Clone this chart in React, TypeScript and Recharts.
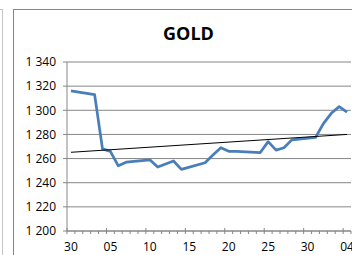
import { LineChart, Line, XAxis, YAxis, CartesianGrid } from "recharts";

// trading days, Sep 30 -> Nov 4
const dates = [
  "2016-09-30", "2016-10-03", "2016-10-04", "2016-10-05", "2016-10-06", "2016-10-07",
  "2016-10-10", "2016-10-11", "2016-10-12", "2016-10-13", "2016-10-14",
  "2016-10-17", "2016-10-18", "2016-10-19", "2016-10-20", "2016-10-21",
  "2016-10-24", "2016-10-25", "2016-10-26", "2016-10-27", "2016-10-28",
  "2016-10-31", "2016-11-01", "2016-11-02", "2016-11-03", "2016-11-04",
];
const prices = [
  1316, 1313, 1268, 1266, 1254, 1257,
  1259, 1253, 1255.5, 1258, 1251,
  1256.5, 1263, 1269, 1266, 1266,
  1265, 1274, 1267, 1269, 1275.5,
  1277.5, 1289, 1297.5, 1303, 1298.5,
];
const trendDates = ["2016-09-30", "2016-11-04"];
const trendValues = [1265.2, 1280];

const xLabels = ["30", "05", "10", "15", "20", "25", "30", "04"];
const yTicks = [1200, 1220, 1240, 1260, 1280, 1300, 1320, 1340];
const dayCount = 36;

const start = Date.UTC(2016, 8, 30);
const dayOf = (s: string) => {
  const [y, m, d] = s.split("-").map(Number);
  return Math.round((Date.UTC(y, m - 1, d) - start) / 86400000);
};

const series = dates.map((s, i) => ({ d: dayOf(s), price: prices[i] }));
const trend = trendDates.map((s, i) => ({ d: dayOf(s), trend: trendValues[i] }));

const boundaries = Array.from({ length: dayCount + 1 }, (_, i) => i - 0.5);
const labelDays = xLabels.map((_, i) => i * 5);
const xTicks = [...boundaries, ...labelDays].sort((a, b) => a - b);

const GRID = "#868686";
const FONT = "'Open Sans', sans-serif";

const fmtY = (v: number) => `${Math.floor(v / 1000)} ${String(v % 1000).padStart(3, "0")}`;

function XTick(props: any) {
  const { x, y, payload } = props;
  const v = payload.value as number;
  if (Number.isInteger(v)) {
    const idx = labelDays.indexOf(v);
    if (idx < 0) return null;
    return (
      <text x={x} y={y + 20} textAnchor="middle" fontFamily={FONT} fontSize={12} fill="#000">
        {xLabels[idx]}
      </text>
    );
  }
  const major = (v + 0.5) % 5 === 0;
  return <line x1={x} x2={x} y1={major ? y - 3 : y} y2={y + 3} stroke={GRID} />;
}

export default function App() {
  return (
    <div style={{ position: "fixed", left: 0, top: 0, width: 352, height: 255, overflow: "hidden", background: "#fff" }}>
      <div style={{ position: "absolute", left: -300, top: 9, width: 303, height: 400, border: "1px solid #c4c4c4", boxSizing: "border-box" }} />
      <div style={{ position: "absolute", left: 13, top: 9, width: 400, height: 400, border: "1px solid " + GRID, boxSizing: "border-box" }} />
      <svg style={{ position: "absolute", left: 0, top: 0 }} width={352} height={60}>
        <text x={188.5} y={39.5} textAnchor="middle" fontFamily={FONT} fontWeight="bold" fontSize={18} fill="#000">
          GOLD
        </text>
      </svg>
      <LineChart
        width={352}
        height={255}
        margin={{ top: 62, right: 1, bottom: 0, left: 0 }}
        style={{ position: "absolute", left: 0, top: 0 }}
      >
        <CartesianGrid vertical={false} stroke={GRID} />
        <XAxis
          type="number"
          dataKey="d"
          domain={[-0.5, dayCount - 0.5]}
          ticks={xTicks}
          interval={0}
          tickSize={0}
          tickMargin={0}
          tickLine={false}
          axisLine={{ stroke: GRID }}
          tick={<XTick />}
          height={24}
          allowDuplicatedCategory={false}
        />
        <YAxis
          domain={[1200, 1340]}
          ticks={yTicks}
          tickFormatter={fmtY}
          width={67}
          tickSize={4}
          tickMargin={7}
          tickLine={{ stroke: GRID }}
          axisLine={{ stroke: GRID }}
          tick={{ fontFamily: FONT, fontSize: 12, fill: "#000" }}
          interval={0}
        />
        <Line
          data={series}
          dataKey="price"
          stroke="#4a7ebb"
          strokeWidth={2.75}
          dot={false}
          isAnimationActive={false}
          strokeLinejoin="round"
        />
        <Line
          data={trend}
          dataKey="trend"
          stroke="#000"
          strokeWidth={1}
          dot={false}
          isAnimationActive={false}
        />
      </LineChart>
    </div>
  );
}
